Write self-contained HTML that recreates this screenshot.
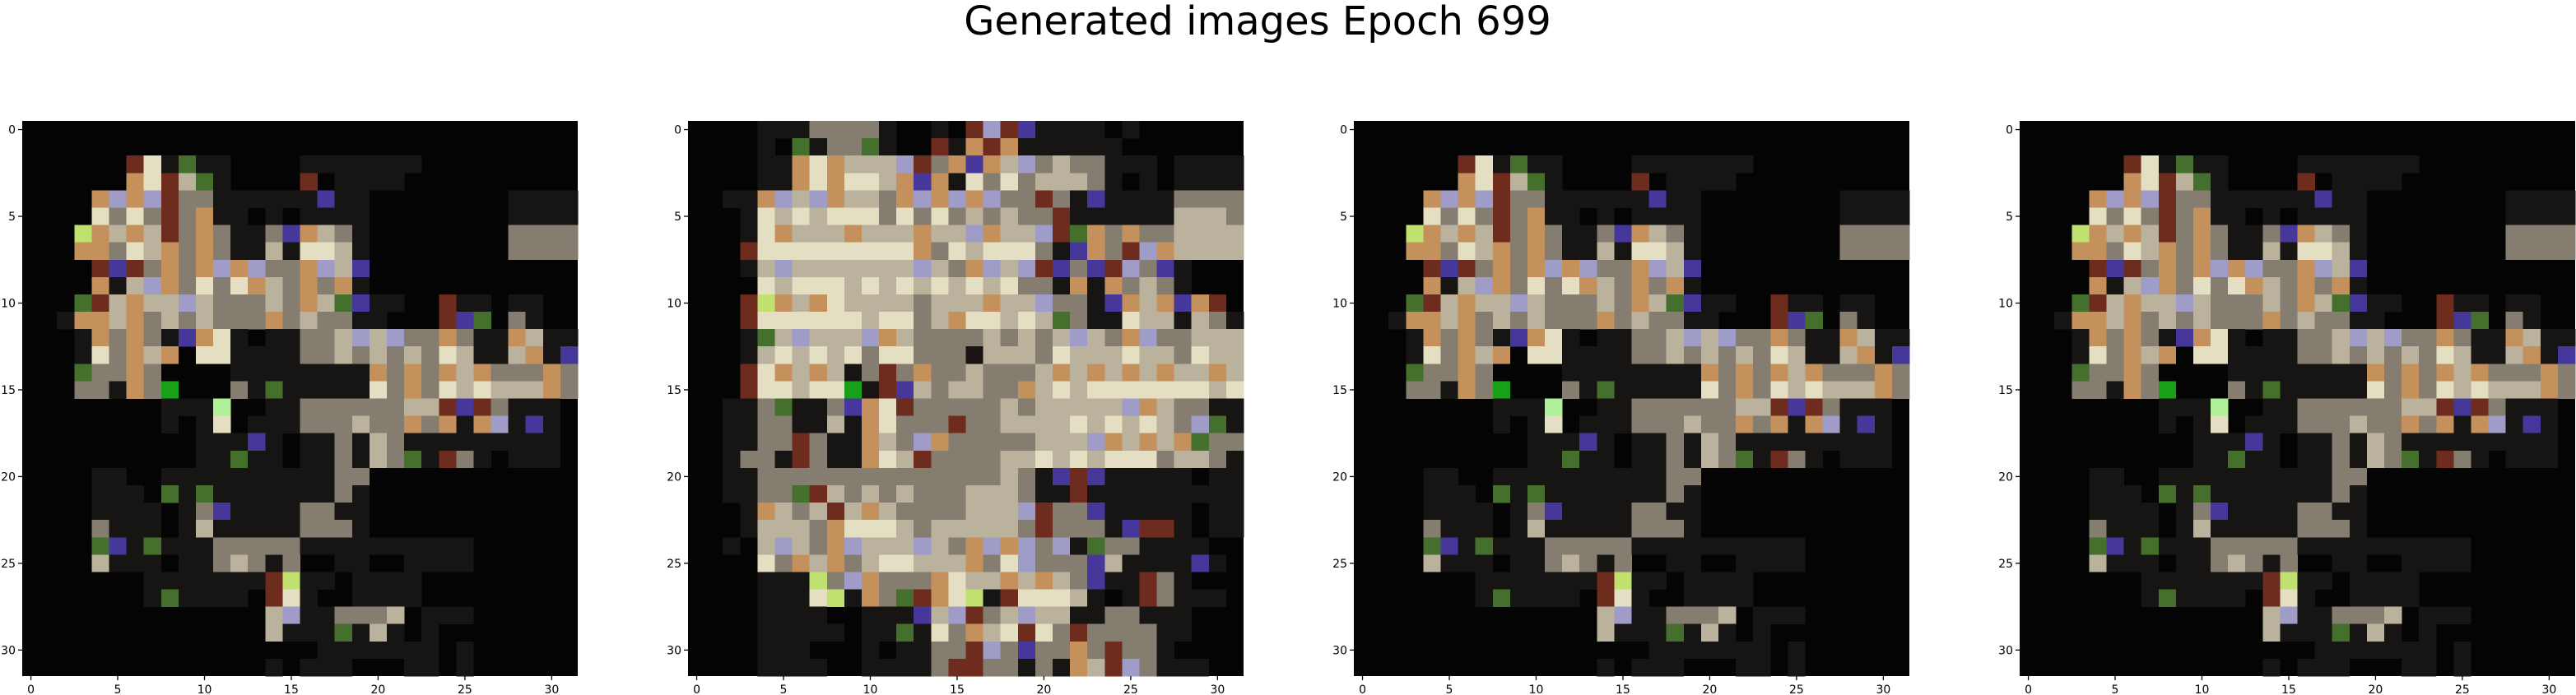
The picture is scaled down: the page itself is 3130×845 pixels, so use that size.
<!DOCTYPE html>
<html><head><meta charset="utf-8"><style>
html,body{margin:0;padding:0;background:#fff;}
body{width:3130px;height:845px;overflow:hidden;position:relative;font-family:"DejaVu Sans","Liberation Sans",sans-serif;}
#title{position:absolute;left:0;width:3056px;top:0px;text-align:center;font-size:48px;line-height:52px;color:#000;}
svg{position:absolute;left:0;top:0;}
</style></head><body>
<div id="title">Generated images Epoch 699</div>
<svg id="fig" width="3130" height="845" xmlns="http://www.w3.org/2000/svg"></svg>
<script>
// Palette-coded 32x32 pixel grids (one row per string)
const palette = {'.':'#040404','d':'#171513','m':'#857d70','l':'#bab29c','w':'#e4dec2','o':'#c4915c','r':'#6e2c1e','p':'#a09cc8','b':'#46389a','g':'#456f2c','G':'#18a018','y':'#c0e070','Y':'#b0f098'};
const gridA = [
"................................",
"................................",
"......rwdgdd....ddddddd.........",
"......owrlgd....r.dddd..........",
"....opoprmmddddddbdd........dddd",
"....wmwmrmodd.d.dddd........dddd",
"...yololrmomddmbolmd........mmmm",
"...oomwlomomddldwwld........mmmm",
"....rbrmomopopmmoplb............",
"....odlpomwmwolmomod............",
"...grlollplmmmlmolgbdd..rdd.dd..",
"..doolomlmlmmmomlmmdd...rbg.md..",
"...domomdbowd.ddmmlplpmmomddoldd",
"...dwmolo.wwddddmmlmlmlmwlddlodb",
"...gmmom....ddddddddomomolommmom",
"...mmdomG...mdgdddddwmomwlwlllom",
"........dddY..ddmmmmmmllrbrmddd.",
"........d.dw.dddmmmlmmomodopdbd.",
"..........dddbd.ddmdlmddddddddd.",
"..........ddgdd.ddmdlmgdrmd.ddd.",
"....dd..ddddddddddmm............",
"....ddd.gdgdddddddmd............",
"....dddd.dmbddddmmdd............",
"....mddd.dldddddmmmd............",
"....gbdgdddmmmmmdddddddddd......",
"....lddd.ddmlmdm..dd..dddd......",
".......dddddddrydd.dddd.........",
".......dgdddd.rwd..dddd.........",
"..............lpddmmml.ddd......",
"..............ldddgdld.d........",
".................ddddddd.d......",
"..............d.ddd...dd.d......"
];
const gridB = [
"....dddmmmmd..d.rprbdddd.d......",
"....d.gdmmgd..rdorodddddd.......",
"....ddowolllprmobolpmlmmddd.dddd",
"....ddowowwlobodwmwmlllmd.d.dddd",
"..ddoplpollmopopopmmrmdbddddmmmm",
"...dwlwlwwwmwmwmlmlmmrddddddlllm",
"...dwolllolllollpollprgomommllll",
"...rwwwwwwwwwomwlwwwmdbomrpollll",
"...dlplllllllplmoplprbmbrpmbd...",
"....wlwwwlwlwlwlwlwmmdodomlmd...",
"...ryolowllllmllloll pmmdbolobor.",
"...rwwwwwwlwwmlowwlwlgmddwlldlmd",
"...dglplllpolmmmmlmlmlplmopmmlll",
"...dlwlwlwmwwmmmdlllmwlllwllmwll",
"...rwololdmrmommlmmmlolololollol",
"...rwwlwwGdrblmllmmolwlwwwwwwwlw",
"..ddmgddmbowrmmmmmlmlllllpolmmdd",
"..ddmmddldowmmmrmmllllwlwlwlmpgd",
"..ddmmrmddolmpommmmmlllpolologmm",
"..dmmdrmddowlrmmmmllwlwlwwwmllmd",
"..ddmmmmmmmmmmmmmmlmdbrbddddd.dd",
"..ddmmgrlmlmlmmmlllmddrddddddddd",
"...dolmlrlolmmmmlllprmmbddddd.dd",
"...dlllmowwwlmlllllmrmmmdbrrd.dd",
"..d.lplmoplllplmopopmpdgmmdddd..",
"....wmolomlwwlllomwpmmmbldddd bd.",
"....dddympommmowllololmbddrmd...",
"....dddwydomgrowydrwwwld.drmddd.",
"....dddd..dddblprmlpllddmmddd...",
"....ddddd.ddgdwmolwrwmrmmmmdd...",
"....ddd...d.ddmmrpmbmmomrmmd....",
"....dddd..ddddmrrmmdmdolrpmddd.."
];
const panelGrids = [gridA, gridB, gridA, gridA];
const tickValues = [0, 5, 10, 15, 20, 25, 30];
const panelLefts = [27, 836, 1645, 2454];
const NS = 'http://www.w3.org/2000/svg';
const svg = document.getElementById('fig');
const TOP = 147, SIZE = 675, N = 32, CELL = SIZE / N;
function cx(left, i){ return left + (i + 0.5) * CELL; }
function cy(i){ return TOP + (i + 0.5) * CELL; }
panelGrids.forEach((grid, p) => {
  const left = panelLefts[p];
  const g = document.createElementNS(NS, 'g');
  
  
  svg.appendChild(g);
  const bg = document.createElementNS(NS, 'rect');
  bg.setAttribute('x', left); bg.setAttribute('y', TOP);
  bg.setAttribute('width', SIZE); bg.setAttribute('height', SIZE);
  bg.setAttribute('fill', '#040404');
  g.appendChild(bg);
  for (let r = 0; r < N; r++) {
    const row = (grid[r] || '').replace(/ /g, '');
    for (let c = 0; c < N; c++) {
      const ch = row[c] || '.';
      if (ch === '.') continue;
      const rc = document.createElementNS(NS, 'rect');
      
      
      rc.setAttribute('x', (left + c * CELL).toFixed(2));
      rc.setAttribute('y', (TOP + r * CELL).toFixed(2));
      rc.setAttribute('width', (CELL + 0.3).toFixed(2));
      rc.setAttribute('height', (CELL + 0.3).toFixed(2));
      rc.setAttribute('fill', palette[ch] || '#040404');
      rc.setAttribute('shape-rendering', 'crispEdges');
      g.appendChild(rc);
    }
  }
  tickValues.forEach(v => {
    const y = cy(v), x = cx(left, v);
    const yt = document.createElementNS(NS, 'line');
    
    
    yt.setAttribute('x1', left - 5); yt.setAttribute('x2', left);
    yt.setAttribute('y1', y); yt.setAttribute('y2', y);
    yt.setAttribute('stroke', '#000'); yt.setAttribute('stroke-width', '1.3');
    g.appendChild(yt);
    const yl = document.createElementNS(NS, 'text');
    
    
    yl.setAttribute('x', left - 8); yl.setAttribute('y', y + 5);
    yl.setAttribute('text-anchor', 'end'); yl.setAttribute('font-size', '14');
    yl.setAttribute('font-family', 'DejaVu Sans, Liberation Sans, sans-serif');
    yl.textContent = v;
    g.appendChild(yl);
    const xt = document.createElementNS(NS, 'line');
    
    
    xt.setAttribute('x1', x); xt.setAttribute('x2', x);
    xt.setAttribute('y1', TOP + SIZE); xt.setAttribute('y2', TOP + SIZE + 5);
    xt.setAttribute('stroke', '#000'); xt.setAttribute('stroke-width', '1.3');
    g.appendChild(xt);
    const xl = document.createElementNS(NS, 'text');
    
    
    xl.setAttribute('x', x); xl.setAttribute('y', TOP + SIZE + 21);
    xl.setAttribute('text-anchor', 'middle'); xl.setAttribute('font-size', '14');
    xl.setAttribute('font-family', 'DejaVu Sans, Liberation Sans, sans-serif');
    xl.textContent = v;
    g.appendChild(xl);
  });
});
</script>
</body></html>
